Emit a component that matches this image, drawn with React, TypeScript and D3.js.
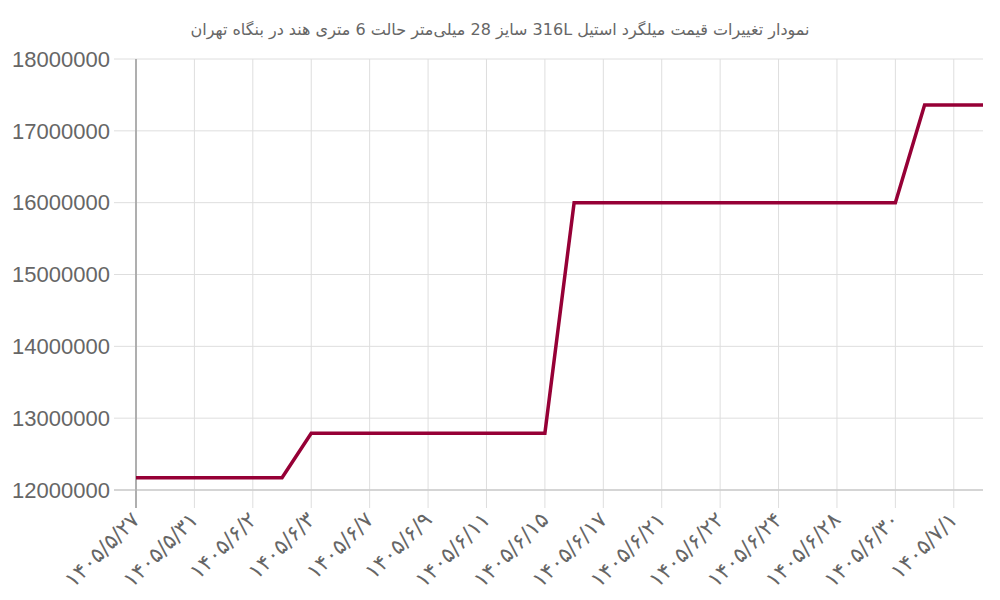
import React from "react";
import * as d3 from "d3";

const TITLE = "نمودار تغییرات قیمت میلگرد استیل 316L سایز 28 میلی‌متر حالت 6 متری هند در بنگاه تهران";

const dates: string[] = [
  "۱۴۰۵/۵/۲۷", "۱۴۰۵/۵/۲۸", "۱۴۰۵/۵/۳۱", "۱۴۰۵/۶/۱", "۱۴۰۵/۶/۲", "۱۴۰۵/۶/۲",
  "۱۴۰۵/۶/۳", "۱۴۰۵/۶/۴", "۱۴۰۵/۶/۷", "۱۴۰۵/۶/۸", "۱۴۰۵/۶/۹", "۱۴۰۵/۶/۱۰",
  "۱۴۰۵/۶/۱۱", "۱۴۰۵/۶/۱۴", "۱۴۰۵/۶/۱۵", "۱۴۰۵/۶/۱۶", "۱۴۰۵/۶/۱۷", "۱۴۰۵/۶/۱۸",
  "۱۴۰۵/۶/۲۱", "۱۴۰۵/۶/۲۱", "۱۴۰۵/۶/۲۲", "۱۴۰۵/۶/۲۳", "۱۴۰۵/۶/۲۴", "۱۴۰۵/۶/۲۵",
  "۱۴۰۵/۶/۲۸", "۱۴۰۵/۶/۲۹", "۱۴۰۵/۶/۳۰", "۱۴۰۵/۶/۳۱", "۱۴۰۵/۷/۱", "۱۴۰۵/۷/۲",
];

const prices: number[] = [
  12170000, 12170000, 12170000, 12170000, 12170000, 12170000,
  12790000, 12790000, 12790000, 12790000, 12790000, 12790000,
  12790000, 12790000, 12790000, 16000000, 16000000, 16000000,
  16000000, 16000000, 16000000, 16000000, 16000000, 16000000,
  16000000, 16000000, 16000000, 17360000, 17360000, 17360000,
];

const yTicks: number[] = [12000000, 13000000, 14000000, 15000000, 16000000, 17000000, 18000000];

export default function App() {
  const W = 1000, H = 600;
  const left = 136, right = 983, top = 59, bottom = 490;
  const x = d3.scalePoint<number>().domain(d3.range(dates.length)).range([left, right]);
  const y = d3.scaleLinear().domain([12000000, 18000000]).range([bottom, top]);
  const line = d3.line<number>().x((_, i) => x(i) as number).y((d) => y(d));
  const shown = d3.range(dates.length).filter((i) => i % 2 === 0);
  const gridColor = "#dedede";
  return (
    <svg width={W} height={H} style={{ position: "absolute", left: 0, top: 0, background: "#fff" }}>
      <text x={500} y={35} textAnchor="middle" fontSize={16} fill="#666" fontFamily="DejaVu Sans, sans-serif" direction="rtl">
        {TITLE}
      </text>
      {yTicks.map((t) => (
        <g key={t}>
          <line x1={left - 22} x2={right} y1={y(t)} y2={y(t)} stroke={gridColor} strokeWidth={1} />
          <text x={left - 26} y={y(t)} dy="0.35em" textAnchor="end" fontSize={22} fill="#666" fontFamily="Liberation Sans, Arial, sans-serif">
            {t}
          </text>
        </g>
      ))}
      {shown.map((i) => (
        <g key={i}>
          <line x1={x(i)} x2={x(i)} y1={top} y2={bottom + 18} stroke={i === 0 ? "#aaa" : gridColor} strokeWidth={i === 0 ? 1.5 : 1} />
          <text
            transform={`translate(${(x(i) as number) + 5},${bottom + 31}) rotate(-45)`}
            textAnchor="end"
            fontSize={21.5}
            fill="#666"
            fontFamily="DejaVu Sans, sans-serif"
          >
            {dates[i]}
          </text>
        </g>
      ))}
      <line x1={left - 22} x2={right} y1={bottom} y2={bottom} stroke="#ccc" strokeWidth={1.5} />
      <line x1={left} x2={left} y1={top} y2={bottom + 18} stroke="#aaa" strokeWidth={1.5} />
      <path d={line(prices) || ""} fill="none" stroke="#960036" strokeWidth={3.5} strokeLinejoin="miter" />
    </svg>
  );
}
